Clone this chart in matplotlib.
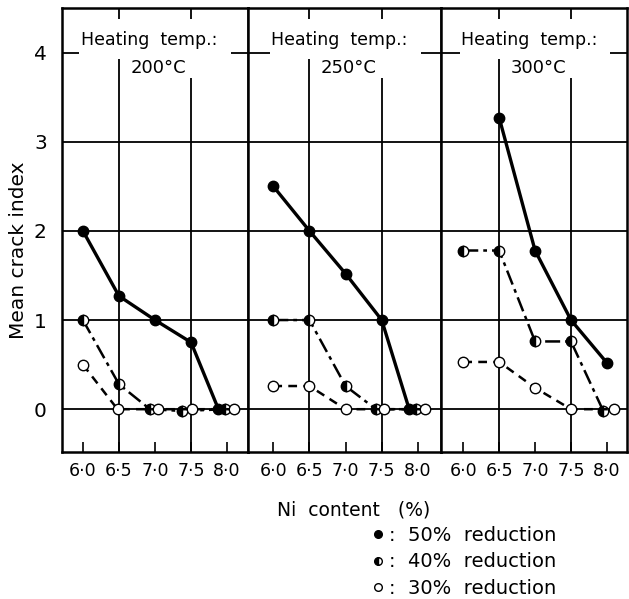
import matplotlib
matplotlib.use("Agg")
import matplotlib.pyplot as plt
from matplotlib.lines import Line2D
from matplotlib.patches import Rectangle

# Datos: contenido de Ni (%) e indice medio de grietas
temps = ["200°C", "250°C", "300°C"]

ni_200_50 = [6.0, 6.5, 7.0, 7.5, 7.88]
idx_200_50 = [2.0, 1.27, 1.0, 0.75, 0.0]
ni_200_40 = [6.0, 6.5, 6.93, 7.38, 7.97]
idx_200_40 = [1.0, 0.28, 0.0, -0.02, 0.0]
ni_200_30 = [6.0, 6.48, 7.04, 7.52, 8.1]
idx_200_30 = [0.5, 0.0, 0.0, 0.0, 0.0]

ni_250_50 = [6.0, 6.5, 7.0, 7.5, 7.88]
idx_250_50 = [2.5, 2.0, 1.52, 1.0, 0.0]
ni_250_40 = [6.0, 6.5, 7.0, 7.42, 7.97]
idx_250_40 = [1.0, 1.0, 0.26, 0.0, 0.0]
ni_250_30 = [6.0, 6.5, 7.0, 7.53, 8.1]
idx_250_30 = [0.26, 0.26, 0.0, 0.0, 0.0]

ni_300_50 = [6.5, 7.0, 7.5, 8.0]
idx_300_50 = [3.27, 1.78, 1.0, 0.52]
ni_300_40 = [6.0, 6.5, 7.0, 7.5, 7.95]
idx_300_40 = [1.78, 1.78, 0.76, 0.76, -0.02]
ni_300_30 = [6.0, 6.5, 7.0, 7.5, 8.1]
idx_300_30 = [0.53, 0.53, 0.24, 0.0, 0.0]

xticks = [6.0, 6.5, 7.0, 7.5, 8.0]
xtick_labels = ["6·0", "6·5", "7·0", "7·5", "8·0"]
yticks = [0, 1, 2, 3, 4]
ytick_labels = ["0", "1", "2", "3", "4"]
legend_labels = [":  50%  reduction", ":  40%  reduction", ":  30%  reduction"]

series = [
    [(ni_200_50, idx_200_50), (ni_200_40, idx_200_40), (ni_200_30, idx_200_30)],
    [(ni_250_50, idx_250_50), (ni_250_40, idx_250_40), (ni_250_30, idx_250_30)],
    [(ni_300_50, idx_300_50), (ni_300_40, idx_300_40), (ni_300_30, idx_300_30)],
]

# Estilo de cada serie: 50% lleno, 40% medio lleno, 30% vacio
estilos = [
    dict(linestyle="-", linewidth=2.4, marker="o", markersize=7.5,
         markerfacecolor="black", markeredgecolor="black"),
    dict(linestyle=(0, (6, 2, 1.5, 2)), linewidth=1.8, marker="o", markersize=7.5,
         fillstyle="left", markerfacecolor="black", markerfacecoloralt="white",
         markeredgecolor="black"),
    dict(linestyle=(0, (3.5, 2.5)), linewidth=1.8, marker="o", markersize=7.5,
         markerfacecolor="white", markeredgecolor="black"),
]

W, H = 629, 599
fig = plt.figure(figsize=(W / 100, H / 100), dpi=100)

# Limites de cada panel en pixeles (izquierda, derecha)
bordes = [(62, 248), (248, 441), (441, 627)]
xlims = [(5.71, 8.29), (5.65, 8.32), (5.69, 8.28)]
top_px, bottom_px = 8, 452

for i, (x0, x1) in enumerate(bordes):
    ax = fig.add_axes([x0 / W, 1 - bottom_px / H, (x1 - x0) / W, (bottom_px - top_px) / H])
    ax.set_xlim(*xlims[i])
    ax.set_ylim(-0.48, 4.5)

    # Cuadricula
    for y in yticks:
        ax.axhline(y, color="black", linewidth=1.3, zorder=1)
    for x in [6.5, 7.5]:
        ax.axvline(x, color="black", linewidth=1.3, zorder=1)

    # Cajas blancas que tapan la cuadricula detras del texto
    ax.add_patch(Rectangle((5.95, 3.93), 2.1, 0.45, facecolor="white",
                           edgecolor="none", zorder=2))
    ax.add_patch(Rectangle((6.56, 3.72), 1.0, 0.25, facecolor="white",
                           edgecolor="none", zorder=2))
    ax.text(5.97, 4.14, "Heating  temp.:", fontsize=12.5, ha="left", va="center", zorder=3)
    ax.text(6.66, 3.83, temps[i], fontsize=13, ha="left", va="center", zorder=3)

    for (xs, ys), est in zip(series[i], estilos):
        ax.plot(xs, ys, color="black", zorder=4, **est)

    ax.set_xticks(xticks)
    ax.set_xticklabels(xtick_labels, fontsize=12.5)
    ax.tick_params(axis="x", direction="in", length=7, width=1.2, pad=7)
    if i == 0:
        ax.set_yticks(yticks)
        ax.set_yticklabels(ytick_labels, fontsize=14.5)
        ax.tick_params(axis="y", length=0, pad=11)
    else:
        ax.set_yticks([])
    for s in ax.spines.values():
        s.set_linewidth(1.8)

# Etiquetas de los ejes
fig.text(19 / W, 1 - 250 / H, "Mean crack index", rotation=90, fontsize=14.5,
         ha="center", va="center")
fig.text(354 / W, 1 - 510 / H, "Ni  content   (%)", fontsize=13.5,
         ha="center", va="center")

# Leyenda debajo del grafico
handles = []
for est in estilos:
    h = dict(est)
    h["linestyle"] = "none"
    h["markersize"] = 5.5
    handles.append(Line2D([], [], color="black", **h))
fig.legend(handles, legend_labels, loc="upper left", frameon=False,
           bbox_to_anchor=(370 / W, 1 - 526 / H), fontsize=14,
           handlelength=0.8, handletextpad=0.2, labelspacing=0.38,
           borderpad=0, borderaxespad=0)

fig.savefig("out.png", dpi=100)
